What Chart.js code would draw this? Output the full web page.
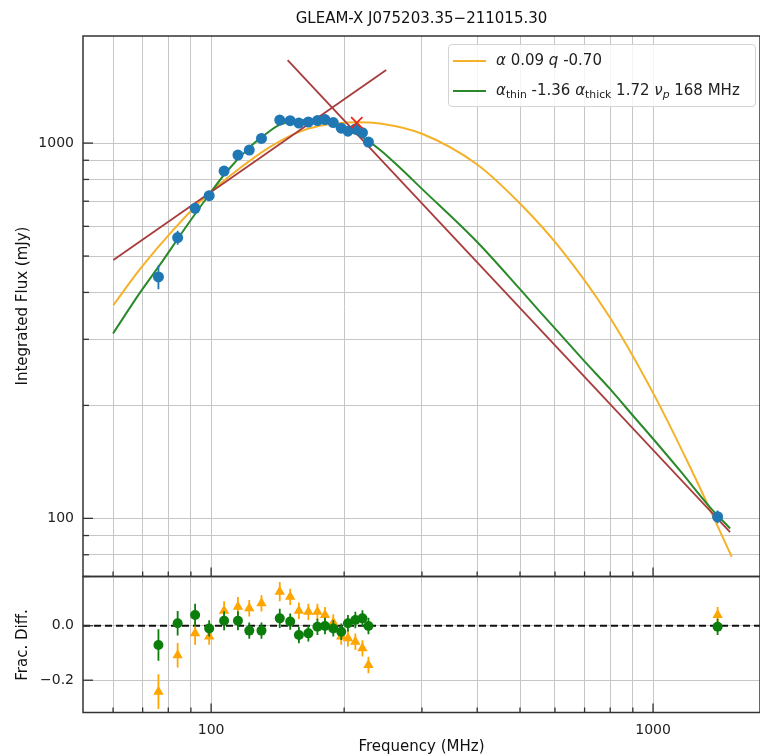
<!DOCTYPE html>
<html>
<head>
<meta charset="utf-8">
<script src="https://cdn.jsdelivr.net/npm/chart.js@4.4.1/dist/chart.umd.min.js"></script>
<style>
  body { margin: 0; background: #fff; font-family: "DejaVu Sans", sans-serif; }
  #wrap { position: relative; width: 760px; height: 755px; overflow: hidden; }
  canvas { position: absolute; left: 0; top: 0; }
  .txt { position: absolute; color: #111; font-size: 15px; white-space: nowrap; }
  .rot { transform: translate(-50%, -50%) rotate(-90deg); }
  #legend {
    position: absolute; left: 448px; top: 44px; width: 308px; height: 63px;
    border: 1px solid #d4d4d4; border-radius: 4px; background: rgba(255,255,255,0.8);
    box-sizing: border-box; font-size: 15px; color: #222;
  }
  #legend .row { position: absolute; left: 4px; height: 20px; line-height: 20px; white-space: nowrap; }
  #legend .sw { display: inline-block; width: 33px; height: 2px; vertical-align: middle; margin-right: 10px; }
  #legend sub { font-size: 72%; vertical-align: -0.3em; line-height: 0; }
</style>
</head>
<body>
<div id="wrap">
  <canvas id="top" width="760" height="755"></canvas>
  <canvas id="bottom" width="760" height="755"></canvas>
  <div class="txt" style="left:83px;width:677px;top:9px;text-align:center;">GLEAM-X J075203.35−211015.30</div>
  <div class="txt rot" style="left:22px;top:306px;">Integrated Flux (mJy)</div>
  <div class="txt rot" style="left:22px;top:645px;">Frac. Diff.</div>
  <div class="txt" style="left:83px;width:677px;top:737px;text-align:center;">Frequency (MHz)</div>
  <div id="legend">
    <div class="row" style="top:5px;"><span class="sw" style="background:#f4b22a"></span><i>α</i> 0.09 <i>q</i> -0.70</div>
    <div class="row" style="top:35px;"><span class="sw" style="background:#2a8a2a"></span><i>α</i><sub>thin</sub> -1.36 <i>α</i><sub>thick</sub> 1.72 <i>ν<sub>p</sub></i> 168 MHz</div>
  </div>
</div>
<script>
// measured points (MHz, mJy)
const freq = [76, 84, 92, 99, 107, 115, 122, 130, 143, 151, 158, 166, 174, 181, 189, 197, 204, 212, 220, 227, 1400];
const flux = [440, 560, 670, 724, 842, 929, 958, 1029, 1152, 1147, 1131, 1138, 1148, 1155, 1134, 1096, 1076, 1090, 1066, 1006, 101];
const fluxErr = [32, 24, 22, 22, 25, 28, 28, 30, 32, 32, 30, 30, 30, 30, 30, 30, 30, 30, 30, 30, 4];

// fractional differences
const residCpl = [-0.242, -0.108, -0.028, -0.040, 0.055, 0.070, 0.064, 0.082, 0.125, 0.106, 0.055, 0.051, 0.051, 0.039, 0.012, -0.040, -0.046, -0.059, -0.083, -0.144, 0.039];
const residCplErr = [0.064, 0.045, 0.042, 0.03, 0.035, 0.035, 0.03, 0.03, 0.035, 0.03, 0.03, 0.03, 0.03, 0.03, 0.03, 0.03, 0.03, 0.03, 0.03, 0.03, 0.03];
const residPeak = [-0.071, 0.009, 0.039, -0.010, 0.018, 0.018, -0.018, -0.018, 0.027, 0.015, -0.034, -0.028, -0.004, -0.001, -0.010, -0.022, 0.009, 0.021, 0.027, -0.001, -0.004];
const residPeakErr = [0.058, 0.045, 0.042, 0.03, 0.035, 0.035, 0.03, 0.03, 0.035, 0.03, 0.03, 0.03, 0.03, 0.03, 0.03, 0.03, 0.03, 0.03, 0.03, 0.03, 0.03];

// curved power law model
const cplFreq = [60.1, 69.1, 82.2, 97.8, 116.3, 136, 156.3, 176.4, 213.6, 241.3, 300, 400, 500, 616, 800, 1000, 1213, 1507];
const cplFlux = [370, 462, 588, 726, 858, 977, 1065, 1112, 1137, 1128, 1059, 877, 690, 525, 342, 216, 137, 79];

// peaked spectrum model
const peakFreq = [60, 69.1, 76.7, 86.6, 97.8, 108.5, 122.5, 131.3, 143.2, 170.4, 192.5, 221.2, 241.3, 263.1, 300, 400, 500, 555, 605.5, 700, 800, 900, 1000, 1151, 1346, 1494];
const peakFlux = [311, 400, 475, 585, 715, 840, 977, 1045, 1120, 1152, 1112, 1032, 958, 875, 755, 545, 408, 355, 317, 262, 221, 188, 163, 134, 107, 94];

// thick / thin asymptotes and peak marker
const thickFreq = [60.1, 249];
const thickFlux = [488, 1565];
const thinFreq = [149, 1494];
const thinFlux = [1664, 91.9];
const markFreq = [213.6];
const markFlux = [1133];

const xTicks = [60, 70, 80, 90, 100, 200, 300, 400, 500, 600, 700, 800, 900, 1000];
const xLabels = { 100: '100', 1000: '1000' };
const yTicksTop = [70, 80, 90, 100, 200, 300, 400, 500, 600, 700, 800, 900, 1000];
const yLabelsTop = { 100: '100', 1000: '1000' };
const yTicksBottom = [-0.2, 0];
const yLabelsBottom = { '-0.2': '\u22120.2', '0': '0.0' };

const xMin = 51.3, xMax = 1746;
const gridColor = '#c6c6c6';
const font = { family: 'DejaVu Sans', size: 14 };

const pts = (xs, ys) => xs.map((x, i) => ({ x: x, y: ys[i] }));

// drop Chart.js' label overhang padding so the plot box stays where we put it
const noPad = s => { s.paddingLeft = 0; s.paddingRight = 0; s.paddingTop = 0; s.paddingBottom = 0; };

// error bars drawn under each dataset's markers
const errorBars = {
    id: 'errorBars',
    beforeDatasetDraw(chart, args) {
        const ds = chart.data.datasets[args.index];
        if (!ds.errs) return;
        const { ctx, chartArea: a } = chart;
        const xs = chart.scales.x, ys = chart.scales.y;
        ctx.save();
        ctx.beginPath();
        ctx.rect(a.left, a.top, a.right - a.left, a.bottom - a.top);
        ctx.clip();
        ctx.strokeStyle = ds.backgroundColor;
        ctx.lineWidth = 1.8;
        ds.data.forEach((p, i) => {
            const px = xs.getPixelForValue(p.x);
            ctx.beginPath();
            ctx.moveTo(px, ys.getPixelForValue(p.y - ds.errs[i]));
            ctx.lineTo(px, ys.getPixelForValue(p.y + ds.errs[i]));
            ctx.stroke();
        });
        ctx.restore();
    }
};

// frame + inward ticks (matplotlib style)
const frameTicks = {
    id: 'frameTicks',
    afterDraw(chart) {
        const { ctx, chartArea: a } = chart;
        const xs = chart.scales.x, ys = chart.scales.y;
        const isMajor = (s, v) => s.type !== 'logarithmic' || Math.abs(Math.log10(v) - Math.round(Math.log10(v))) < 1e-9;
        ctx.save();
        ctx.strokeStyle = '#333';
        ctx.lineWidth = 1.5;
        ctx.strokeRect(a.left, a.top, a.right - a.left, a.bottom - a.top);
        ctx.lineWidth = 1.3;
        xs.ticks.forEach(t => {
            const px = xs.getPixelForValue(t.value);
            const len = isMajor(xs, t.value) ? 9 : 5;
            ctx.beginPath();
            ctx.moveTo(px, a.bottom);
            ctx.lineTo(px, a.bottom - len);
            ctx.stroke();
        });
        ys.ticks.forEach(t => {
            const py = ys.getPixelForValue(t.value);
            const len = isMajor(ys, t.value) ? 10 : 6;
            ctx.beginPath();
            ctx.moveTo(a.left, py);
            ctx.lineTo(a.left + len, py);
            ctx.stroke();
        });
        ctx.restore();
    }
};

const xScale = (showLabels) => ({
    type: 'logarithmic', min: xMin, max: xMax,
    afterBuildTicks: s => { s.ticks = xTicks.map(v => ({ value: v })); },
    afterFit: s => { s.height = showLabels ? 42.5 : 0; noPad(s); },
    ticks: {
        display: showLabels, autoSkip: false, maxRotation: 0, padding: 9,
        font: font, color: '#222',
        callback: v => xLabels[v] || ''
    },
    grid: { color: gridColor, lineWidth: 1, drawTicks: false },
    border: { display: false }
});

// --- Top panel: spectrum ---
new Chart(document.getElementById('top'), {
    type: 'line',
    data: {
        datasets: [
            { data: pts(cplFreq, cplFlux), borderColor: '#f4b22a', borderWidth: 2, pointRadius: 0, cubicInterpolationMode: 'monotone', order: 5 },
            { data: pts(peakFreq, peakFlux), borderColor: '#2a8a2a', borderWidth: 2, pointRadius: 0, cubicInterpolationMode: 'monotone', order: 4 },
            { data: pts(thickFreq, thickFlux), borderColor: '#a83c3c', borderWidth: 1.8, pointRadius: 0, order: 3 },
            { data: pts(thinFreq, thinFlux), borderColor: '#a83c3c', borderWidth: 1.8, pointRadius: 0, order: 3 },
            { data: pts(freq, flux), errs: fluxErr, showLine: false, pointRadius: 5.5, pointBorderWidth: 0, backgroundColor: '#1f77b4', pointBackgroundColor: '#1f77b4', order: 1 },
            { data: pts(markFreq, markFlux), showLine: false, pointStyle: 'crossRot', pointRadius: 8, pointBorderWidth: 1.8, pointBorderColor: '#e8291f', order: 0 }
        ]
    },
    options: {
        responsive: false, animation: false,
        layout: { autoPadding: false, padding: { top: 36, bottom: 178.5, left: 0, right: 0 } },
        plugins: { legend: { display: false }, tooltip: { enabled: false } },
        scales: {
            x: xScale(false),
            y: {
                type: 'logarithmic', min: 70, max: 1929,
                afterBuildTicks: s => { s.ticks = yTicksTop.map(v => ({ value: v })); },
                afterFit: s => { s.width = 83; noPad(s); },
                ticks: { autoSkip: false, padding: 9, font: font, color: '#222', callback: v => yLabelsTop[v] || '' },
                grid: { color: gridColor, lineWidth: 1, drawTicks: false },
                border: { display: false }
            }
        }
    },
    plugins: [errorBars, frameTicks]
});

// --- Bottom panel: fractional differences ---
new Chart(document.getElementById('bottom'), {
    type: 'line',
    data: {
        datasets: [
            { data: pts([xMin, xMax], [0, 0]), borderColor: '#111', borderWidth: 2, borderDash: [7, 4], pointRadius: 0, order: 3 },
            { data: pts(freq, residCpl), errs: residCplErr, showLine: false, pointStyle: 'triangle', pointRadius: 6, pointBorderWidth: 0, backgroundColor: '#ffa500', pointBackgroundColor: '#ffa500', order: 2 },
            { data: pts(freq, residPeak), errs: residPeakErr, showLine: false, pointRadius: 5, pointBorderWidth: 0, backgroundColor: '#0a7d0a', pointBackgroundColor: '#0a7d0a', order: 1 }
        ]
    },
    options: {
        responsive: false, animation: false,
        layout: { autoPadding: false, padding: { top: 576.5, bottom: 0, left: 0, right: 0 } },
        plugins: { legend: { display: false }, tooltip: { enabled: false } },
        scales: {
            x: xScale(true),
            y: {
                type: 'linear', min: -0.3185, max: 0.1806,
                afterBuildTicks: s => { s.ticks = yTicksBottom.map(v => ({ value: v })); },
                afterFit: s => { s.width = 83; noPad(s); },
                ticks: { autoSkip: false, padding: 9, font: font, color: '#222', callback: v => yLabelsBottom[String(v)] || '' },
                grid: { color: gridColor, lineWidth: 1, drawTicks: false },
                border: { display: false }
            }
        }
    },
    plugins: [errorBars, frameTicks]
});
</script>
</body>
</html>
